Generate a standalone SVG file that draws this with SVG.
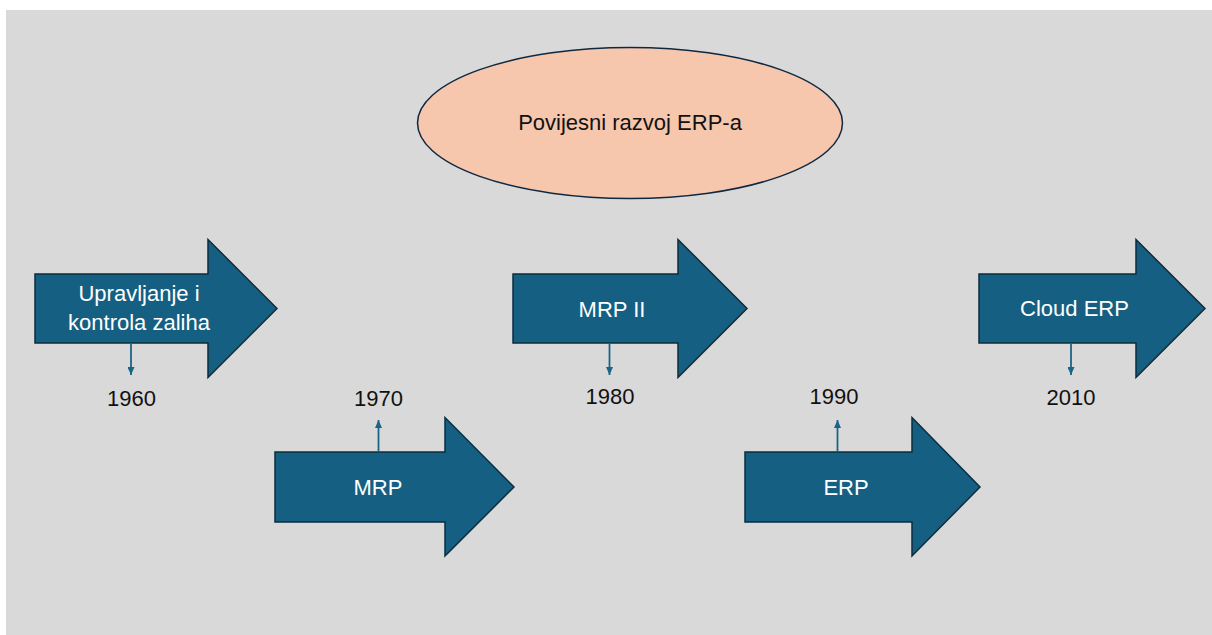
<svg xmlns="http://www.w3.org/2000/svg" width="1212" height="635" viewBox="0 0 1212 635">
  <style>
    .arrow { fill: #156082; stroke: #0B2D3E; stroke-width: 1.5; stroke-linejoin: miter; }
    .lbl { font-family: "Liberation Sans", Arial, sans-serif; font-size: 22px; fill: #FFFFFF; text-anchor: middle; }
    .year { font-family: "Liberation Sans", Arial, sans-serif; font-size: 22px; fill: #111111; text-anchor: middle; }
    .title { font-family: "Liberation Sans", Arial, sans-serif; font-size: 22px; fill: #111111; text-anchor: middle; }
    .conn { stroke: #1B6485; stroke-width: 1.8; fill: none; }
  </style>
  <defs>
    <marker id="head" viewBox="0 0 8 7" refX="8" refY="3.5" markerUnits="userSpaceOnUse" markerWidth="8" markerHeight="7" orient="auto">
      <path d="M0,0 L8,3.5 L0,7 z" fill="#1B6485"/>
    </marker>
  </defs>
  <rect x="0" y="0" width="1212" height="635" fill="#FFFFFF"/>
  <rect x="6" y="10" width="1206" height="625" fill="#D9D9D9"/>

  <g id="title">
    <ellipse cx="630" cy="123" rx="212.5" ry="75.5" fill="#F6C6AD" stroke="#0E2841" stroke-width="1.5"/>
    <text class="title" x="630" y="130">Povijesni razvoj ERP-a</text>
  </g>

  <g id="node-1960">
    <polygon class="arrow" points="35,274 208,274 208,239.5 277,308.5 208,377.5 208,343 35,343"/>
    <text class="lbl" x="139" y="301">Upravljanje i</text>
    <text class="lbl" x="139" y="330">kontrola zaliha</text>
  </g>

  <g id="node-1970">
    <polygon class="arrow" points="275,452 445,452 445,417.5 514,487 445,556 445,522 275,522"/>
    <text class="lbl" x="378" y="495">MRP</text>
  </g>

  <g id="node-1980">
    <polygon class="arrow" points="513,274 678,274 678,239.5 747,308.5 678,377.5 678,343 513,343"/>
    <text class="lbl" x="612" y="316.5">MRP II</text>
  </g>

  <g id="node-1990">
    <polygon class="arrow" points="745,452 912,452 912,417.5 980,487 912,556 912,522 745,522"/>
    <text class="lbl" x="846" y="495">ERP</text>
  </g>

  <g id="node-2010">
    <polygon class="arrow" points="979,274 1136,274 1136,239.5 1205,308.5 1136,377.5 1136,343 979,343"/>
    <text class="lbl" x="1074.5" y="316">Cloud ERP</text>
  </g>

  <g id="connectors">
    <path class="conn" d="M131,344 V375" marker-end="url(#head)"/>
    <path class="conn" d="M378.5,451 V420" marker-end="url(#head)"/>
    <path class="conn" d="M609.5,344 V375" marker-end="url(#head)"/>
    <path class="conn" d="M837.5,451 V420" marker-end="url(#head)"/>
    <path class="conn" d="M1071,344 V375" marker-end="url(#head)"/>
  </g>

  <g id="years">
    <text class="year" x="131.5" y="406">1960</text>
    <text class="year" x="378.5" y="406">1970</text>
    <text class="year" x="610" y="404">1980</text>
    <text class="year" x="834" y="404">1990</text>
    <text class="year" x="1071" y="405">2010</text>
  </g>
</svg>
